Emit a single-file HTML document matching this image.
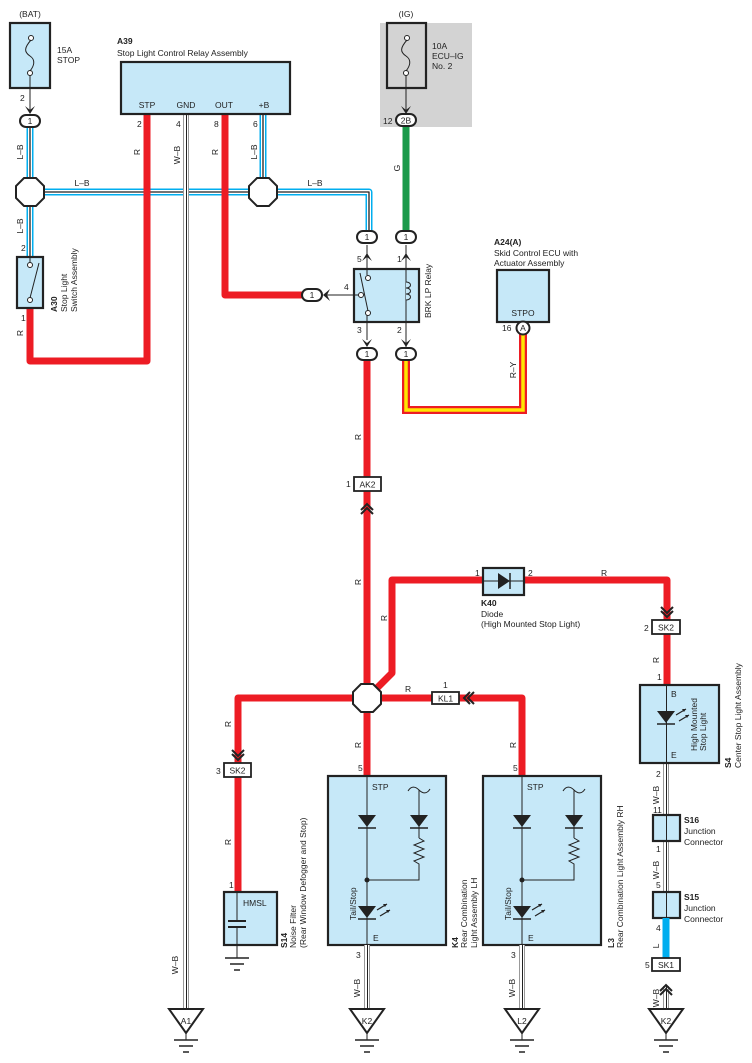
<!DOCTYPE html>
<html><head><meta charset="utf-8"><style>
html,body{margin:0;padding:0;background:#fff;}
svg{display:block;font-family:"Liberation Sans",sans-serif;}
text{font-size:8.5px;fill:#222;}
.b{font-weight:bold;}
.box{fill:#c6e8f8;stroke:#222;stroke-width:2.2;}
.red{stroke:#ed1c24;stroke-width:7;fill:none;stroke-linejoin:round;}
.k{stroke:#222;stroke-width:1;fill:none;}
.oct{fill:#fff;stroke:#222;stroke-width:2;}
.ov{fill:#fff;stroke:#222;stroke-width:2;}
.tag{fill:#fff;stroke:#222;stroke-width:1.8;}
</style></head><body>
<svg width="752" height="1063" viewBox="0 0 752 1063" xmlns="http://www.w3.org/2000/svg">
<defs>
<g id="oct"><polygon class="oct" points="-6,-14 6,-14 14,-6 14,6 6,14 -6,14 -14,6 -14,-6"/></g>
<g id="gnd"><line x1="-12" y1="0" x2="12" y2="0" stroke="#222" stroke-width="1.5"/><line x1="-7" y1="6" x2="7" y2="6" stroke="#222" stroke-width="1.5"/><line x1="-3" y1="12" x2="3" y2="12" stroke="#222" stroke-width="1.5"/></g>
<g id="tri"><polygon points="-17,0 17,0 0,24" fill="#fff" stroke="#222" stroke-width="2"/></g>
<g id="arrD"><path d="M-5,-8 L0,0 L5,-8 L0,-4 Z" fill="#222"/></g>
<g id="dchev"><path d="M-6,-10 L0,-4 L6,-10 M-6,-6 L0,0 L6,-6" stroke="#222" stroke-width="2" fill="none"/></g>
<g id="led"><polygon points="-9,0 9,0 0,12" fill="#222"/><line x1="-9" y1="13" x2="9" y2="13" stroke="#222" stroke-width="1.5"/></g>
<g id="ledx"><polygon points="-9,0 9,0 0,12" fill="#222"/><line x1="-9" y1="13" x2="9" y2="13" stroke="#222" stroke-width="1.5"/><path d="M10,4 L20,-2 M13,10 L23,4" stroke="#222" stroke-width="1.2"/><path d="M20,-2 l-4,0 l2,3z M23,4 l-4,0 l2,3z" fill="#222"/></g>
</defs>

<!-- BAT fuse -->
<text x="30" y="17" text-anchor="middle">(BAT)</text>
<rect class="box" x="10" y="23" width="40" height="65"/>
<circle cx="31" cy="38" r="2.5" fill="#fff" stroke="#222"/><circle cx="30" cy="73" r="2.5" fill="#fff" stroke="#222"/>
<path d="M31,40 C24,48 24,52 30,56 C36,60 34,66 30,71" class="k" stroke-width="1.3"/>
<text x="57" y="53">15A</text><text x="57" y="63">STOP</text>
<line x1="30" y1="75" x2="30" y2="112" class="k"/>
<use href="#arrD" x="30" y="114"/>
<text x="20" y="101">2</text>

<!-- IG fuse -->
<rect x="380" y="23" width="92" height="104" fill="#d3d3d3"/>
<text x="406" y="17" text-anchor="middle">(IG)</text>
<rect x="387" y="23" width="39" height="65" fill="none" stroke="#222" stroke-width="2.2"/>
<circle cx="407" cy="38" r="2.5" fill="#fff" stroke="#222"/><circle cx="406" cy="73" r="2.5" fill="#fff" stroke="#222"/>
<path d="M407,40 C400,48 400,52 406,56 C412,60 410,66 406,71" class="k" stroke-width="1.3"/>
<text x="432" y="49">10A</text><text x="432" y="59">ECU–IG</text><text x="432" y="69">No. 2</text>
<line x1="406" y1="75" x2="406" y2="112" class="k"/>
<use href="#arrD" x="406" y="114"/>

<!-- Green wire -->
<line x1="406" y1="126" x2="406" y2="231" stroke="#1a9a4a" stroke-width="7"/>
<text transform="translate(400,168) rotate(-90)" text-anchor="middle">G</text>
<rect class="ov" x="396" y="114" width="20" height="12" rx="6"/><text x="406" y="123.5" text-anchor="middle">2B</text>
<text x="383" y="124">12</text>

<!-- L-B blue wires -->
<g fill="none" stroke-linejoin="round">
<path d="M30,127 V258 M30,192 H263 M263,115 V192 H369 V231" stroke="#00aeef" stroke-width="7"/>
<path d="M30,127 V258 M30,192 H263 M263,115 V192 H369 V231" stroke="#fff" stroke-width="4"/>
<path d="M30,127 V258 M30,192 H263 M263,115 V192 H369 V231" stroke="#222" stroke-width="1.3"/>
</g>
<text transform="translate(23,152) rotate(-90)" text-anchor="middle">L–B</text>
<text transform="translate(23,226) rotate(-90)" text-anchor="middle">L–B</text>
<text x="82" y="186" text-anchor="middle">L–B</text>
<text x="315" y="186" text-anchor="middle">L–B</text>
<text transform="translate(257,152) rotate(-90)" text-anchor="middle">L–B</text>

<!-- W-B GND wire -->
<g fill="none"><line x1="186" y1="114" x2="186" y2="1010" stroke="#999" stroke-width="6"/><line x1="186" y1="114" x2="186" y2="1010" stroke="#fff" stroke-width="4"/><line x1="186.5" y1="114" x2="186.5" y2="1010" stroke="#222" stroke-width="1"/></g>
<text transform="translate(180,155) rotate(-90)" text-anchor="middle">W–B</text>
<text transform="translate(178,965) rotate(-90)" text-anchor="middle">W–B</text>

<!-- red wires top -->
<path class="red" d="M30,308 V361 H147 V114"/>
<path class="red" d="M225,114 V295 H303"/>
<text transform="translate(140,152) rotate(-90)" text-anchor="middle">R</text>
<text transform="translate(218,152) rotate(-90)" text-anchor="middle">R</text>
<text transform="translate(23,333) rotate(-90)" text-anchor="middle">R</text>

<use href="#oct" x="30" y="192"/>
<use href="#oct" x="263" y="192"/>
<rect class="ov" x="20" y="115" width="20" height="12" rx="6"/><text x="30" y="124" text-anchor="middle">1</text>

<!-- A39 -->
<text x="117" y="44" class="b">A39</text>
<text x="117" y="56">Stop Light Control Relay Assembly</text>
<rect class="box" x="121" y="62" width="169" height="52"/>
<text x="147" y="108" text-anchor="middle">STP</text><text x="186" y="108" text-anchor="middle">GND</text><text x="224" y="108" text-anchor="middle">OUT</text><text x="264" y="108" text-anchor="middle">+B</text>
<text x="137" y="127">2</text><text x="176" y="127">4</text><text x="214" y="127">8</text><text x="253" y="127">6</text>

<!-- A30 switch -->
<rect class="box" x="17" y="257" width="26" height="51"/>
<circle cx="30" cy="265" r="2.5" fill="#fff" stroke="#222"/><circle cx="30" cy="300" r="2.5" fill="#fff" stroke="#222"/>
<line x1="30" y1="258" x2="30" y2="263" class="k"/>
<line x1="30" y1="298" x2="39" y2="263" class="k" stroke-width="1.3"/>
<text x="21" y="251">2</text><text x="21" y="321">1</text>
<text transform="translate(57,312) rotate(-90)" class="b">A30</text>
<text transform="translate(67,312) rotate(-90)">Stop Light</text>
<text transform="translate(77,312) rotate(-90)">Switch Assembly</text>

<!-- BRK LP relay -->
<rect class="ov" x="357" y="231" width="20" height="12" rx="6"/><text x="367" y="240" text-anchor="middle">1</text>
<rect class="ov" x="396" y="231" width="20" height="12" rx="6"/><text x="406" y="240" text-anchor="middle">1</text>
<rect class="box" x="354" y="269" width="65" height="53"/>
<line x1="367" y1="245" x2="367" y2="275" class="k"/><use href="#arrD" x="367" y="245" transform="rotate(180 367 249)"/>
<line x1="406" y1="245" x2="406" y2="353" class="k"/><use href="#arrD" x="406" y="245" transform="rotate(180 406 249)"/>
<line x1="367" y1="315" x2="367" y2="340" class="k"/>
<use href="#arrD" x="367" y="347"/><use href="#arrD" x="406" y="347"/>
<circle cx="368" cy="278" r="2.5" fill="#fff" stroke="#222"/><circle cx="361" cy="295" r="2.5" fill="#fff" stroke="#222"/><circle cx="368" cy="313" r="2.5" fill="#fff" stroke="#222"/>
<line x1="360" y1="273" x2="368" y2="311" class="k" stroke-width="1.3"/>
<path d="M406,282 c6,0 6,6 0,6 c6,0 6,6 0,6 c6,0 6,6 0,6" fill="#c6e8f8" stroke="#222"/>
<line x1="325" y1="295" x2="359" y2="295" class="k"/>
<path d="M330,289 L323,295 L330,301 L327,295 Z" fill="#222"/>
<rect class="ov" x="302" y="289" width="20" height="12" rx="6"/><text x="312" y="298" text-anchor="middle">1</text>
<text x="357" y="262">5</text><text x="397" y="262">1</text><text x="344" y="290">4</text><text x="357" y="333">3</text><text x="397" y="333">2</text>
<text transform="translate(431,318) rotate(-90)">BRK LP Relay</text>

<!-- red-yellow -->
<path d="M406,359 V410 H523 V334" fill="none" stroke="#ed1c24" stroke-width="8"/>
<path d="M406,359 V410 H523 V334" fill="none" stroke="#ffe600" stroke-width="3.5"/>
<text transform="translate(516,370) rotate(-90)" text-anchor="middle">R–Y</text>

<!-- A24 -->
<text x="494" y="245" class="b">A24(A)</text>
<text x="494" y="256">Skid Control ECU with</text>
<text x="494" y="266">Actuator Assembly</text>
<rect class="box" x="497" y="270" width="52" height="52"/>
<text x="523" y="316" text-anchor="middle">STPO</text>
<circle cx="523" cy="328" r="6.5" fill="#fff" stroke="#222" stroke-width="2"/><text x="523" y="331" text-anchor="middle">A</text>
<text x="502" y="331">16</text>

<!-- main red down -->
<path class="red" d="M367,359 V477 M367,491 V776"/>
<path class="red" d="M238,776 V698 H432 M459,698 H522 V776"/>
<path class="red" d="M367,698 L392,673 V580 H483 M524,580 H667 V620 M667,634 V685"/>
<path class="red" d="M238,763 V892"/>
<rect class="ov" x="357" y="348" width="20" height="12" rx="6"/><text x="367" y="357" text-anchor="middle">1</text>
<rect class="ov" x="396" y="348" width="20" height="12" rx="6"/><text x="406" y="357" text-anchor="middle">1</text>
<rect class="tag" x="354" y="477" width="27" height="14"/><text x="367.5" y="487.5" text-anchor="middle">AK2</text>
<text x="346" y="487">1</text>
<use href="#dchev" x="367" y="494" transform="rotate(180 367 499)"/>
<text transform="translate(361,437) rotate(-90)" text-anchor="middle">R</text>
<text transform="translate(361,582) rotate(-90)" text-anchor="middle">R</text>
<text transform="translate(387,618) rotate(-90)" text-anchor="middle">R</text>

<!-- diode K40 -->
<rect class="box" x="483" y="568" width="41" height="27"/>
<line x1="483" y1="581" x2="524" y2="581" class="k"/>
<polygon points="498,573 498,589 510,581" fill="#222"/><line x1="510" y1="573" x2="510" y2="589" stroke="#222" stroke-width="1.5"/>
<text x="475" y="576">1</text><text x="528" y="576">2</text><text x="601" y="576">R</text>
<text x="481" y="606" class="b">K40</text><text x="481" y="617">Diode</text><text x="481" y="627">(High Mounted Stop Light)</text>

<!-- SK2 right -->
<use href="#dchev" x="667" y="617"/>
<rect class="tag" x="652" y="620" width="28" height="14"/><text x="666" y="630.5" text-anchor="middle">SK2</text>
<text x="644" y="631">2</text>
<text transform="translate(659,660) rotate(-90)" text-anchor="middle">R</text>
<text x="657" y="680">1</text>

<!-- junction -->
<use href="#oct" x="367" y="698"/>
<text x="405" y="692">R</text>
<rect class="tag" x="432" y="692" width="27" height="12"/><text x="445.5" y="701.5" text-anchor="middle">KL1</text>
<text x="443" y="688">1</text>
<path d="M470,692 L464,698 L470,704 M474,692 L468,698 L474,704" stroke="#222" stroke-width="2" fill="none"/>
<text transform="translate(231,724) rotate(-90)" text-anchor="middle">R</text>
<text transform="translate(361,745) rotate(-90)" text-anchor="middle">R</text>
<text transform="translate(516,745) rotate(-90)" text-anchor="middle">R</text>
<text x="358" y="771">5</text><text x="513" y="771">5</text>

<!-- SK2 left -->
<use href="#dchev" x="238" y="760"/>
<rect class="tag" x="224" y="763" width="27" height="14"/><text x="237.5" y="773.5" text-anchor="middle">SK2</text>
<text x="216" y="774">3</text>
<text transform="translate(231,842) rotate(-90)" text-anchor="middle">R</text>
<text x="229" y="888">1</text>

<!-- HMSL -->
<rect class="box" x="224" y="892" width="53" height="53"/>
<line x1="237" y1="892" x2="237" y2="958" class="k"/>
<rect x="228" y="920" width="18" height="7" fill="#c6e8f8"/>
<line x1="228" y1="921" x2="246" y2="921" stroke="#222" stroke-width="2"/><line x1="228" y1="927" x2="246" y2="927" stroke="#222" stroke-width="2"/>
<text x="243" y="906">HMSL</text>
<use href="#gnd" x="237" y="958"/>
<text transform="translate(287,948) rotate(-90)" class="b">S14</text>
<text transform="translate(296,948) rotate(-90)">Noise Filter</text>
<text transform="translate(306,948) rotate(-90)">(Rear Window Defogger and Stop)</text>

<!-- K4 & L3 -->
<g id="comb">
<rect class="box" x="328" y="776" width="118" height="169"/>
<line x1="367" y1="776" x2="367" y2="945" class="k"/>
<text x="372" y="790">STP</text>
<use href="#led" x="367" y="815"/>
<path d="M408,791 c3,-5 7,-5 11,-1 c4,4 8,4 11,-1" class="k" stroke-width="1.3"/>
<line x1="419" y1="790" x2="419" y2="838" class="k"/>
<use href="#led" x="419" y="815"/>
<path d="M419,838 l5,3 l-10,4 l10,4 l-10,4 l10,4 l-10,4 l5,3 V880 H367" class="k"/>
<circle cx="367" cy="880" r="2.5" fill="#222"/>
<use href="#ledx" x="367" y="906"/>
<text transform="translate(356,920) rotate(-90)">Tail/Stop</text>
<text x="373" y="941">E</text>
</g>
<use href="#comb" x="155" y="0"/>
<text transform="translate(458,948) rotate(-90)" class="b">K4</text>
<text transform="translate(467,948) rotate(-90)">Rear Combination</text>
<text transform="translate(477,948) rotate(-90)">Light Assembly LH</text>
<text transform="translate(614,948) rotate(-90)" class="b">L3</text>
<text transform="translate(623,948) rotate(-90)">Rear Combination Light Assembly RH</text>

<!-- W-B lower wires -->
<g fill="none">
<path d="M367,945 V1010 M522,945 V1010 M666,763 V815 M666,841 V892 M666,986 V1010" stroke="#999" stroke-width="6"/>
<path d="M367,945 V1010 M522,945 V1010 M666,763 V815 M666,841 V892 M666,986 V1010" stroke="#fff" stroke-width="4"/>
<path d="M367.5,945 V1010 M522.5,945 V1010 M666.5,763 V815 M666.5,841 V892 M666.5,986 V1010" stroke="#222" stroke-width="1"/>
</g>
<text x="356" y="958">3</text><text x="511" y="958">3</text>
<text transform="translate(360,988) rotate(-90)" text-anchor="middle">W–B</text>
<text transform="translate(515,988) rotate(-90)" text-anchor="middle">W–B</text>

<!-- S4 -->
<rect class="box" x="640" y="685" width="79" height="78"/>
<line x1="666.5" y1="685" x2="666.5" y2="763" class="k"/>
<text x="671" y="697">B</text><text x="671" y="758">E</text>
<use href="#ledx" x="666" y="711"/>
<text transform="translate(697,751) rotate(-90)">High Mounted</text>
<text transform="translate(706,751) rotate(-90)">Stop Light</text>
<text transform="translate(731,768) rotate(-90)" class="b">S4</text>
<text transform="translate(741,768) rotate(-90)">Center Stop Light Assembly</text>
<text x="656" y="777">2</text><text x="653" y="813">11</text>
<text transform="translate(659,795) rotate(-90)" text-anchor="middle">W–B</text>
<rect class="box" x="653" y="815" width="27" height="26"/>
<line x1="666.5" y1="815" x2="666.5" y2="841" class="k"/>
<text x="684" y="823" class="b">S16</text><text x="684" y="834">Junction</text><text x="684" y="845">Connector</text>
<text x="656" y="852">1</text><text x="656" y="888">5</text>
<text transform="translate(659,870) rotate(-90)" text-anchor="middle">W–B</text>
<rect class="box" x="653" y="892" width="27" height="26"/>
<line x1="666.5" y1="892" x2="666.5" y2="920" class="k"/>
<text x="684" y="900" class="b">S15</text><text x="684" y="911">Junction</text><text x="684" y="922">Connector</text>
<line x1="666" y1="918" x2="666" y2="958" stroke="#00aeef" stroke-width="7"/>
<text x="656" y="931">4</text>
<text transform="translate(659,946) rotate(-90)" text-anchor="middle">L</text>
<rect class="tag" x="652" y="958" width="28" height="13"/><text x="666" y="968" text-anchor="middle">SK1</text>
<text x="645" y="968">5</text>
<use href="#dchev" x="666" y="975" transform="rotate(180 666 980)"/>
<text transform="translate(659,998) rotate(-90)" text-anchor="middle">W–B</text>

<!-- ground triangles -->
<use href="#tri" x="186" y="1009"/><text x="186" y="1024" text-anchor="middle">A1</text>
<use href="#tri" x="367" y="1009"/><text x="367" y="1024" text-anchor="middle">K2</text>
<use href="#tri" x="522" y="1009"/><text x="522" y="1024" text-anchor="middle">L2</text>
<use href="#tri" x="666" y="1009"/><text x="666" y="1024" text-anchor="middle">K2</text>
<use href="#gnd" x="186" y="1040"/><use href="#gnd" x="367" y="1040"/><use href="#gnd" x="522" y="1040"/><use href="#gnd" x="666" y="1040"/>
<line x1="186" y1="1033" x2="186" y2="1040" class="k"/><line x1="367" y1="1033" x2="367" y2="1040" class="k"/><line x1="522" y1="1033" x2="522" y2="1040" class="k"/><line x1="666" y1="1033" x2="666" y2="1040" class="k"/>
</svg>
</body></html>
